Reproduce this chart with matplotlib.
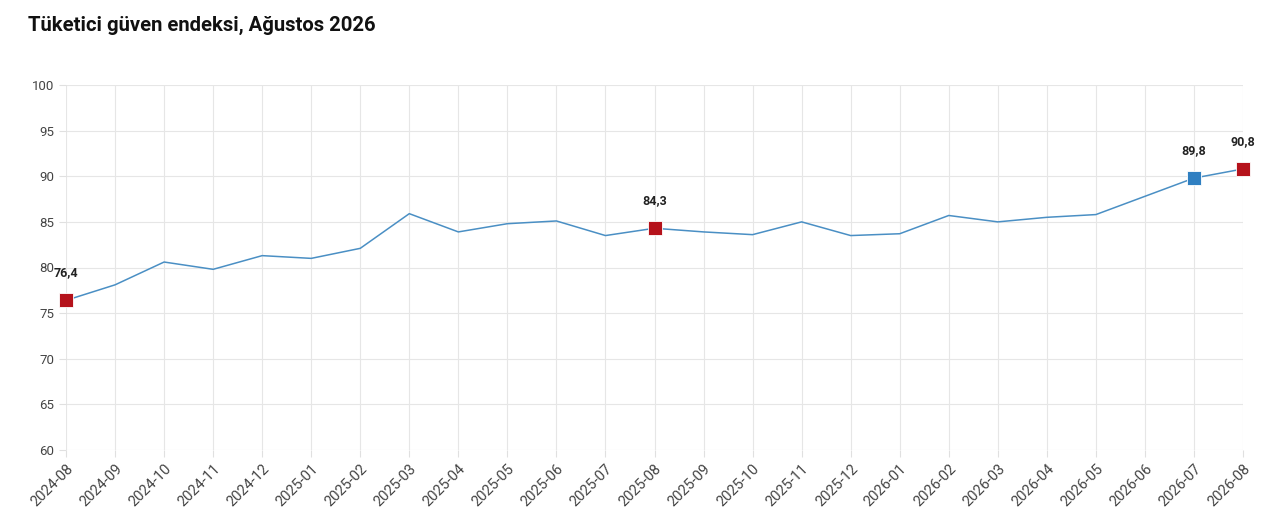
import matplotlib
matplotlib.use("Agg")
import matplotlib.pyplot as plt

plt.rcParams['font.family'] = ['Roboto', 'DejaVu Sans']

months = ["2024-08", "2024-09", "2024-10", "2024-11", "2024-12", "2025-01",
          "2025-02", "2025-03", "2025-04", "2025-05", "2025-06", "2025-07",
          "2025-08", "2025-09", "2025-10", "2025-11", "2025-12", "2026-01",
          "2026-02", "2026-03", "2026-04", "2026-05", "2026-06", "2026-07",
          "2026-08"]
values = [76.4, 78.1, 80.6, 79.8, 81.3, 81.0, 82.1, 85.9, 83.9, 84.8, 85.1, 83.5,
          84.3, 83.9, 83.6, 85.0, 83.5, 83.7, 85.7, 85.0, 85.5, 85.8, 87.8, 89.8,
          90.8]
highlight_red = ["2024-08", "2025-08", "2026-08"]
highlight_blue = ["2026-07"]

fig = plt.figure(figsize=(12.8, 5.26), dpi=100)
ax = fig.add_axes([66 / 1280, 1 - 450 / 526, (1243 - 66) / 1280, (450 - 85) / 526])

x = list(range(len(months)))
ax.plot(x, values, color="#4a8fc4", linewidth=1.1, zorder=3)

for m in highlight_red + highlight_blue:
    i = months.index(m)
    col = "#b5121b" if m in highlight_red else "#2f7fc1"
    ax.plot(x[i], values[i], marker="s", markersize=10.5, color=col,
            markeredgecolor="white", markeredgewidth=0.6, zorder=4, clip_on=False)
    ax.annotate(f"{values[i]:.1f}".replace(".", ","), (x[i], values[i]),
                xytext=(0, 15), textcoords="offset points", ha="center",
                va="bottom", fontsize=9, fontweight="bold", color="#222222")

ax.set_xlim(0, len(months) - 1)
ax.set_ylim(60, 100)
ax.set_yticks(range(60, 101, 5))
ax.set_xticks(x)
ax.set_xticklabels(months, rotation=45, ha="right", rotation_mode="anchor")
ax.grid(True, color="#e6e6e6", linewidth=0.8)
ax.set_axisbelow(True)
for s in ax.spines.values():
    s.set_visible(False)
ax.tick_params(axis="both", colors="#e0e0e0", labelcolor="#444444",
               labelsize=9.5, length=5, width=0.8)
ax.tick_params(axis="x", labelsize=10.5)

fig.text(28 / 1280, 1 - 25 / 526, "Tüketici güven endeksi, Ağustos 2026",
         fontsize=14.6, fontweight="bold", color="#111111", va="center")

fig.savefig("out.png", dpi=100)
